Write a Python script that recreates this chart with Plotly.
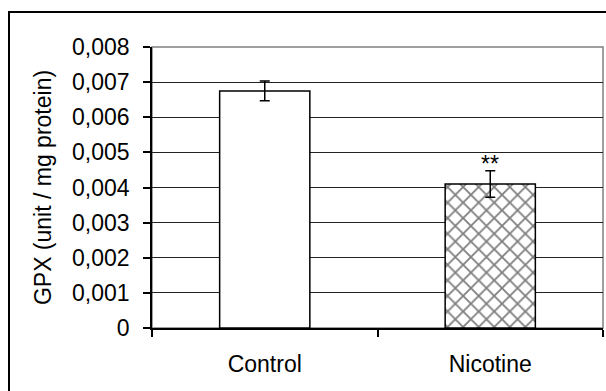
import plotly.graph_objects as go

categories = ["Control", "Nicotine"]
values = [0.00675, 0.0041]
errors = [0.00028, 0.00038]
tick_vals = [0, 0.001, 0.002, 0.003, 0.004, 0.005, 0.006, 0.007, 0.008]
tick_text = ["0", "0,001", "0,002", "0,003", "0,004", "0,005", "0,006", "0,007", "0,008"]
significance = ["", "**"]

W, H = 606, 391
L, R, T, B = 152, 3, 47, 63
FONT = "Liberation Sans, Arial, sans-serif"
FS = 23

fig = go.Figure()
fig.add_trace(go.Bar(
    x=categories, y=values,
    marker=dict(
        color="white",
        line=dict(color="black", width=1.5),
        pattern=dict(shape=["", "x"], fgcolor="black", bgcolor="white", size=11, solidity=0.3),
    ),
    error_y=dict(type="data", array=errors, color="black", thickness=1.5, width=5),
    width=0.4,
))

for c, v, e, s in zip(categories, values, errors, significance):
    if s:
        fig.add_annotation(x=c, y=v + e, text=s, showarrow=False, yanchor="bottom",
                           yshift=-8, font=dict(family=FONT, size=FS, color="black"))

pw = W - L - R
ph = H - T - B
# outer frame
fig.add_shape(type="rect", xref="paper", yref="paper",
              x0=(9 - L) / pw, x1=(W + 20 - L) / pw,
              y0=-(H + 20 - T - ph) / ph, y1=1 + (T - 12) / ph,
              line=dict(color="black", width=2), layer="above")
# plot area border (gray)
fig.add_shape(type="rect", xref="paper", yref="paper", x0=0, x1=1, y0=0, y1=1,
              line=dict(color="#808080", width=1.5), layer="below")

fig.update_layout(
    width=W, height=H,
    margin=dict(l=L, r=R, t=T, b=B, pad=0),
    paper_bgcolor="white", plot_bgcolor="white",
    showlegend=False,
    font=dict(family=FONT, size=FS, color="black"),
    bargap=0.6,
)
fig.update_xaxes(
    type="category", showline=True, linecolor="black", linewidth=1.5,
    ticks="outside", tickson="boundaries", ticklen=7, tickcolor="black", tickwidth=1.5,
    showgrid=False, ticklabelstandoff=15,
    tickfont=dict(family=FONT, size=FS, color="black"),
)
fig.update_yaxes(
    range=[0, 0.008], tickvals=tick_vals, ticktext=tick_text,
    showline=True, linecolor="black", linewidth=1.5,
    ticks="outside", ticklen=7, tickcolor="black", tickwidth=1.5,
    ticklabelstandoff=9,
    showgrid=True, gridcolor="#222222", gridwidth=1, zeroline=False,
    tickfont=dict(family=FONT, size=FS, color="black"),
    title=dict(text="GPX (unit / mg protein)", font=dict(family=FONT, size=FS, color="black"), standoff=14),
)

fig.write_html("out.html", config={"displayModeBar": False},
               post_script="document.body.style.margin='0';document.body.style.overflow='hidden';")
